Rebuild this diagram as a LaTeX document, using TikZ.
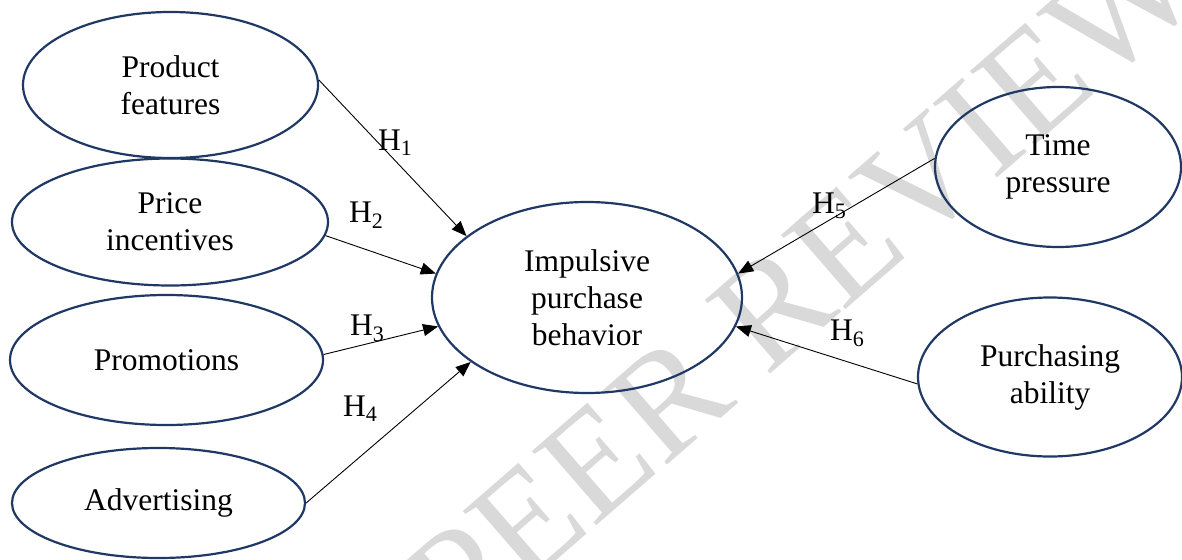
\documentclass[tikz,border=0pt]{standalone}
\usepackage{fontspec}
\setmainfont{Liberation Serif}
\usetikzlibrary{shapes.geometric,arrows.meta}
\definecolor{navy}{HTML}{1F3864}
\definecolor{wmgray}{HTML}{D9D9D9}
\begin{document}
\begin{tikzpicture}[x=1pt,y=-1pt,
  var/.style={ellipse, draw=navy, line width=2.2pt, inner sep=0pt, align=center,
    font=\fontsize{31.5}{37}\selectfont},
  hyp/.style={draw=black, line width=0.9pt, -{Triangle[length=15pt,width=12pt]}},
  hlab/.style={anchor=base west, inner sep=0pt, font=\fontsize{31.5}{37}\selectfont}]
\useasboundingbox (0,0) rectangle (1182,559);
% watermark
\node[rotate=41, text=wmgray, inner sep=0pt, font=\fontsize{150}{150}\selectfont] (wm) at (803,283) {PEER REVIEW};
% variables
\node[var, minimum width=295pt, minimum height=146pt] (pf) at (170.5,85) {Product\\features};
\node[var, minimum width=316pt, minimum height=127pt] (pi) at (170,222) {Price\\incentives};
\node[var, minimum width=313pt, minimum height=130pt] (pr) at (166.5,360) {Promotions};
\node[var, minimum width=293pt, minimum height=110pt] (ad) at (158.5,503) {Advertising};
\node[var, minimum width=310pt, minimum height=191pt] (ipb) at (587,297.5) {Impulsive\\purchase\\behavior};
\node[var, minimum width=246pt, minimum height=160pt] (tp) at (1058,167) {Time\\pressure};
\node[var, minimum width=264pt, minimum height=159pt] (pa) at (1050,377) {Purchasing\\ability};
% hypotheses
\draw[hyp] (pf.2) -- (ipb.153.6);
\draw[hyp] (pi.-5.9) -- (ipb.171.5);
\draw[hyp] (pr.2.9) -- (ipb.191.1);
\draw[hyp] (ad.0) -- (ipb.209.2);
\draw[hyp] (tp.176.8) -- (ipb.9.6);
\draw[hyp] (pa.183.5) -- (ipb.349.5);
% labels
\node[hlab] (h1) at (378,150) {H\textsubscript{1}};
\node[hlab] (h2) at (349,222) {H\textsubscript{2}};
\node[hlab] (h3) at (350,335) {H\textsubscript{3}};
\node[hlab] (h4) at (343,416) {H\textsubscript{4}};
\node[hlab] (h5) at (812,213) {H\textsubscript{5}};
\node[hlab] (h6) at (830,340) {H\textsubscript{6}};
\end{tikzpicture}
\end{document}
